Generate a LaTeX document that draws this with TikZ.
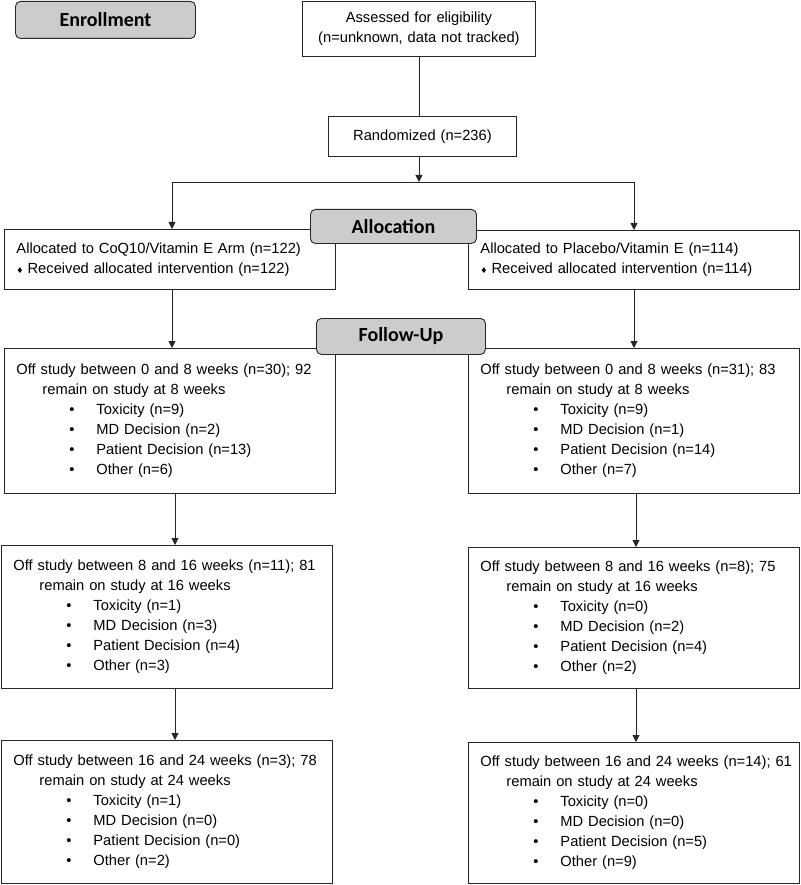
\documentclass[tikz,border=0pt]{standalone}
\usepackage{fontspec}
\setmainfont{Liberation Sans}
\newfontfamily\headfont{Carlito}
\newfontfamily\symfont{DejaVu Sans}
\usetikzlibrary{arrows.meta}
\definecolor{stagegray}{RGB}{204,204,204}
\newcommand{\bul}{\hspace*{53pt}\makebox[27pt][l]{\textbullet}}
\newcommand{\dia}{{\symfont\fontsize{8pt}{8pt}\selectfont ♦}\hspace{4pt}}
\newcommand{\dropout}[8]{\mbox{Off study between #1 (n=#2); #3}\\
\hspace*{26pt}remain on study at #4 weeks\\
\bul Toxicity (n=#5)\\
\bul MD Decision (n=#6)\\
\bul Patient Decision (n=#7)\\
\bul Other (n=#8)}

\begin{document}
\begin{tikzpicture}[x=1pt,y=-1pt,
  box/.style={draw=black!85, line width=0.9pt, anchor=north west, inner sep=0pt,
    inner xsep=12pt, align=left, font=\fontsize{14.7pt}{20pt}\selectfont},
  stage/.style={draw=black!85, line width=0.9pt, fill=stagegray, rounded corners=5pt,
    anchor=north west, font=\headfont\bfseries\fontsize{20pt}{22pt}\selectfont},
  line/.style={draw=black!85, line width=0.9pt},
  arr/.style={line, -{Triangle[length=7pt,width=7pt]}}]
\useasboundingbox (0,0) rectangle (800,885);

% enrollment
\node[box, text width=209, minimum height=55, align=center] (assess) at (302,1)
  {Assessed for eligibility\\(n=unknown, data not tracked)};
\node[box, text width=164, minimum height=40, align=center] (random) at (328,116)
  {Randomized (n=236)};

% allocation
\node[box, text width=307, minimum height=60] (allocL) at (4,229)
  {\mbox{Allocated to CoQ10/Vitamin E Arm (n=122)}\\\dia Received allocated intervention (n=122)};
\node[box, text width=307, minimum height=59] (allocR) at (468,230)
  {Allocated to Placebo/Vitamin E (n=114)\\\dia Received allocated intervention (n=114)};

% follow-up
\node[box, text width=307, minimum height=145] (offL1) at (4,348)
  {\dropout{0 and 8 weeks}{30}{92}{8}{9}{2}{13}{6}};
\node[box, text width=307, minimum height=145] (offR1) at (468,348)
  {\dropout{0 and 8 weeks}{31}{83}{8}{9}{1}{14}{7}};
\node[box, text width=307, minimum height=143] (offL2) at (1,545)
  {\dropout{8 and 16 weeks}{11}{81}{16}{1}{3}{4}{3}};
\node[box, text width=307, minimum height=141] (offR2) at (468,547)
  {\dropout{8 and 16 weeks}{8}{75}{16}{0}{2}{4}{2}};
\node[box, text width=307, minimum height=143] (offL3) at (1,740)
  {\dropout{16 and 24 weeks}{3}{78}{24}{1}{0}{0}{2}};
\node[box, text width=307, minimum height=141] (offR3) at (468,742)
  {\dropout{16 and 24 weeks}{14}{61}{24}{0}{0}{5}{9}};

% stage labels
\node[stage, minimum width=180, minimum height=37] (enrol) at (15,1) {Enrollment};
\node[stage, minimum width=166, minimum height=34] (allocation) at (310,209) {Allocation};
\node[stage, minimum width=169, minimum height=36] (followup) at (316,318) {Follow-Up};

% connectors
\coordinate (splitrow) at (0,182);
\coordinate (colL) at (172,0);
\coordinate (colR) at (634,0);
\coordinate (colLL) at (175,0);
\coordinate (colRR) at (636,0);
\draw[line] (assess.south) -- (assess.south |- random.north);
\draw[arr] (assess.south |- random.south) -- (assess.south |- splitrow);
\draw[line] (splitrow -| colL) -- (splitrow -| colR);
\draw[arr] (splitrow -| colL) -- (allocL.north -| colL);
\draw[arr] (splitrow -| colR) -- (allocR.north -| colR);
\draw[arr] (allocL.south -| colL) -- (offL1.north -| colL);
\draw[arr] (allocR.south -| colR) -- (offR1.north -| colR);
\draw[arr] (offL1.south -| colLL) -- (offL2.north -| colLL);
\draw[arr] (offR1.south -| colRR) -- (offR2.north -| colRR);
\draw[arr] (offL2.south -| colLL) -- (offL3.north -| colLL);
\draw[arr] (offR2.south -| colRR) -- (offR3.north -| colRR);
\end{tikzpicture}
\end{document}
